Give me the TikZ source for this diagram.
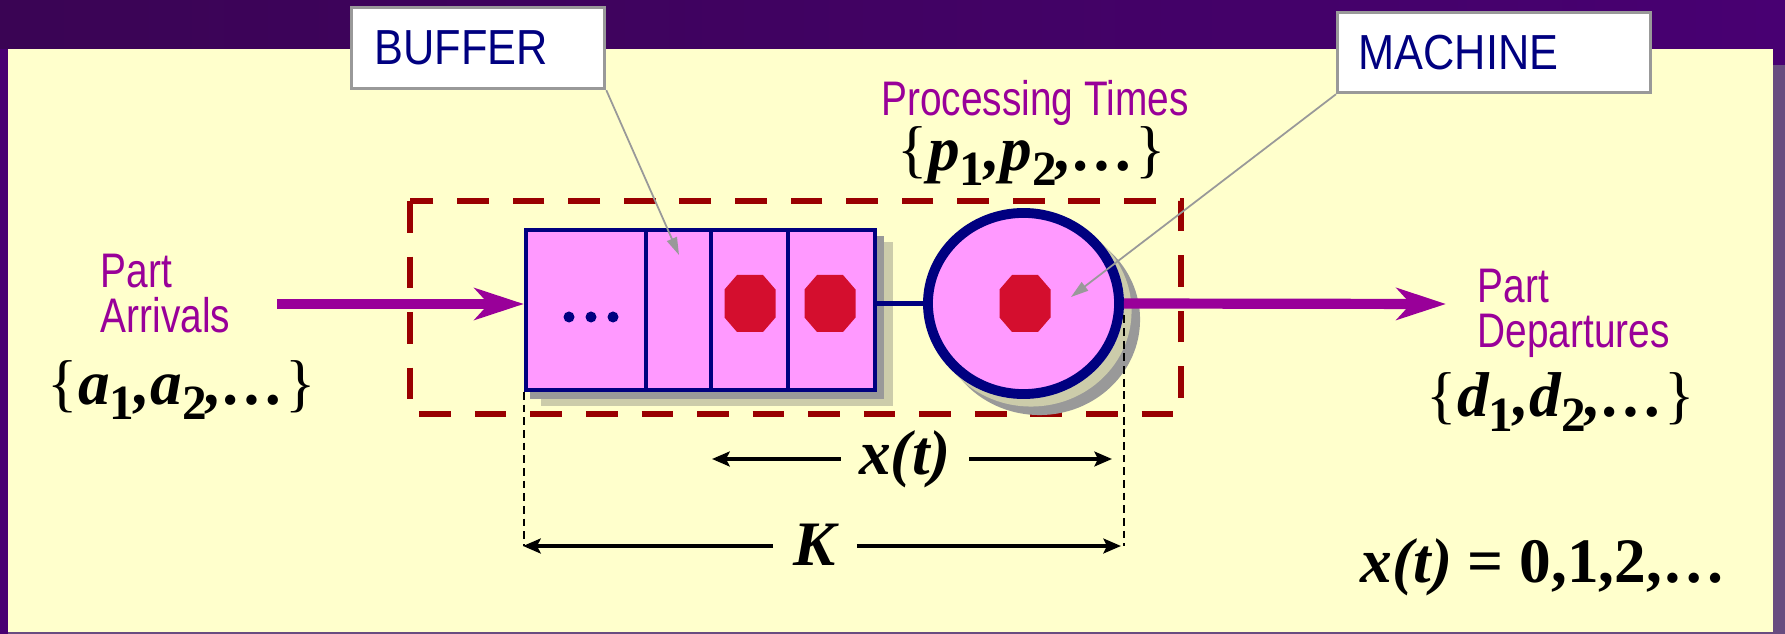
\documentclass[tikz,border=0pt]{standalone}
\usepackage{fontspec}
\setmainfont{Liberation Serif}
\newfontfamily\narrowsf[FakeStretch=0.8]{Liberation Sans}
\newfontfamily\tagsf[FakeStretch=0.88]{Liberation Sans}
\usetikzlibrary{arrows.meta, positioning, calc, shapes.geometric}

\definecolor{slidepurple}{RGB}{72,0,114}
\definecolor{slidedark}{RGB}{58,4,84}
\definecolor{edgepurple}{RGB}{104,76,128}
\definecolor{panelyellow}{RGB}{255,255,204}
\definecolor{flowmagenta}{RGB}{153,0,153}
\definecolor{navy}{RGB}{0,0,128}
\definecolor{cellpink}{RGB}{255,153,255}
\definecolor{partred}{RGB}{212,14,46}
\definecolor{boxred}{RGB}{153,0,0}
\definecolor{shadegrey}{RGB}{153,153,153}
\definecolor{shadebeige}{RGB}{204,204,170}

\newcommand{\redpart}[2]{%
  % #1 = x, #2 = y (centro da peca)
  \fill[partred]
    (#1-13,#2-28.5) -- (#1+13,#2-28.5) --
    (#1+25.5,#2-14) -- (#1+25.5,#2+14) --
    (#1+13,#2+28.5) -- (#1-13,#2+28.5) --
    (#1-25.5,#2+14) -- (#1-25.5,#2-14) --
    cycle;
}
\newcommand{\seqidx}[1]{\raisebox{-4.5pt}{\fontsize{14}{14}\selectfont\upshape #1}}
\newcommand{\seqset}[1]{{\mdseries\upshape\{}#1\seqidx{1},#1\seqidx{2},\ldots{\mdseries\upshape\}}}

\begin{document}
\begin{tikzpicture}[x=0.01cm, y=-0.01cm,
  flow/.style={flowmagenta, line width=2.9pt, -{Stealth[length=14pt, width=9pt, inset=4pt]}},
  dimline/.style={black, line width=1.1pt, -{Stealth[length=5pt, width=4.2pt, inset=1pt]}},
  guide/.style={black, line width=0.4pt, dash pattern=on 2.2pt off 1.4pt},
  callout/.style={shadegrey, line width=0.5pt, -{Triangle[length=5pt, width=3pt]}},
  tagbox/.style={draw=shadegrey, line width=0.9pt, fill=white, anchor=north west,
    inner ysep=0pt, text=navy, align=left, font=\tagsf\fontsize{14}{15}\selectfont},
  flowtext/.style={text=flowmagenta, inner sep=0pt, font=\narrowsf\fontsize{13.8}{12.8}\selectfont},
  seqtext/.style={inner sep=0pt, font=\fontsize{18}{18}\selectfont\bfseries\itshape},
]
    \useasboundingbox (0,0) rectangle (1785,634);

    % fundo do slide
    \fill[slidepurple] (0,0) rectangle (1785,634);
    \shade[left color=slidedark, right color=slidepurple] (0,0) rectangle (1785,49);
    \fill[edgepurple] (1773,65) rectangle (1785,634);
    \fill[edgepurple] (8,632) rectangle (1785,634);
    \fill[panelyellow] (8,49) rectangle (1773,632);

    % fronteira do sistema
    \draw[boxred, line width=1.7pt, dash pattern=on 9pt off 6.8pt] (410,201) rectangle (1181,414);

    % sombras
    \fill[shadebeige] (541,242) rectangle (893,406);
    \fill[shadegrey] (530,236) rectangle (884,399);
    \fill[shadegrey] (1039.5,319.5) ellipse [x radius=1.005cm, y radius=0.955cm];
    \fill[shadebeige] (1031,311) ellipse [x radius=1.005cm, y radius=0.955cm];

    % buffer e maquina
    \node[draw=navy, fill=cellpink, line width=1.3pt, inner sep=0pt,
          minimum width=3.485cm, minimum height=1.595cm] (buffer) at (700.5,310) {};
    \foreach \x in {646, 711, 788}
        \draw[navy, line width=1.3pt] (\x,229) -- (\x,391);
    \foreach \x in {569, 591, 613}
        \fill[navy] (\x,317) circle [radius=0.055cm];
    \redpart{750}{303.5}
    \redpart{830}{303.5}

    \draw[navy, line width=1.4pt] (buffer.east |- 0,303.5) -- (935,303.5);
    \node[ellipse, draw=navy, fill=cellpink, line width=2.8pt, inner sep=0pt,
          minimum width=1.91cm, minimum height=1.81cm] (machine) at (1023.5,303.5) {};
    \redpart{1025}{303.5}

    % fluxo de pecas
    \coordinate (arrin) at (277,304);
    \coordinate (arrout) at (1446,304);
    \draw[flow] (arrin) -- (arrin -| buffer.west);
    \draw[flow] (machine.east) -- (arrout);

    \node[flowtext, align=left, anchor=north west] (arrtext) at (100,253) {Part\\Arrivals};
    \node[seqtext] (arrseq) at (182,390) {\seqset{a}};
    \node[flowtext, align=left, anchor=north west] (deptext) at (1477,268) {Part\\Departures};
    \node[seqtext] (depseq) at (1561,402) {\seqset{d}};
    \node[flowtext, anchor=north] (proctext) at (1035,80) {Processing Times};
    \node[seqtext] (procseq) at (1032,156) {\seqset{p}};

    % rotulos
    \node[tagbox, inner xsep=0.23cm, text width=2.07cm, minimum height=0.81cm] (buftag) at (350,6) {BUFFER};
    \node[tagbox, inner xsep=0.21cm, text width=2.71cm, minimum height=0.80cm] (mchtag) at (1336,11) {MACHINE};
    \coordinate (buftip) at (679,255);
    \coordinate (mchtip) at (1071,297);
    \draw[callout] (buftag.south east) -- (buftip);
    \draw[callout] (mchtag.south west) -- (mchtip);

    % cotas
    \coordinate (occL) at (712,459);
    \coordinate (occR) at (1112,459);
    \coordinate (capL) at (523,546);
    \coordinate (capR) at (1121,546);
    \draw[guide] (buffer.south west) -- (buffer.south west |- capL);
    \draw[guide] ($(machine.east)+(0,12)$) -- (machine.east |- capR);

    \node[seqtext, inner xsep=0.18cm] (occlabel) at (905,459) {x(t)};
    \draw[dimline] (occlabel.west) -- (occL);
    \draw[dimline] (occlabel.east) -- (occR);
    \node[seqtext, inner xsep=0.2cm] (caplabel) at (815,545) {K};
    \draw[dimline] (caplabel.west |- capL) -- (capL);
    \draw[dimline] (caplabel.east |- capR) -- (capR);

    \node[seqtext, anchor=base west] (rangeeq) at (1360,582) {x(t) \textup{= 0,1,2,\ldots}};

\end{tikzpicture}
\end{document}
